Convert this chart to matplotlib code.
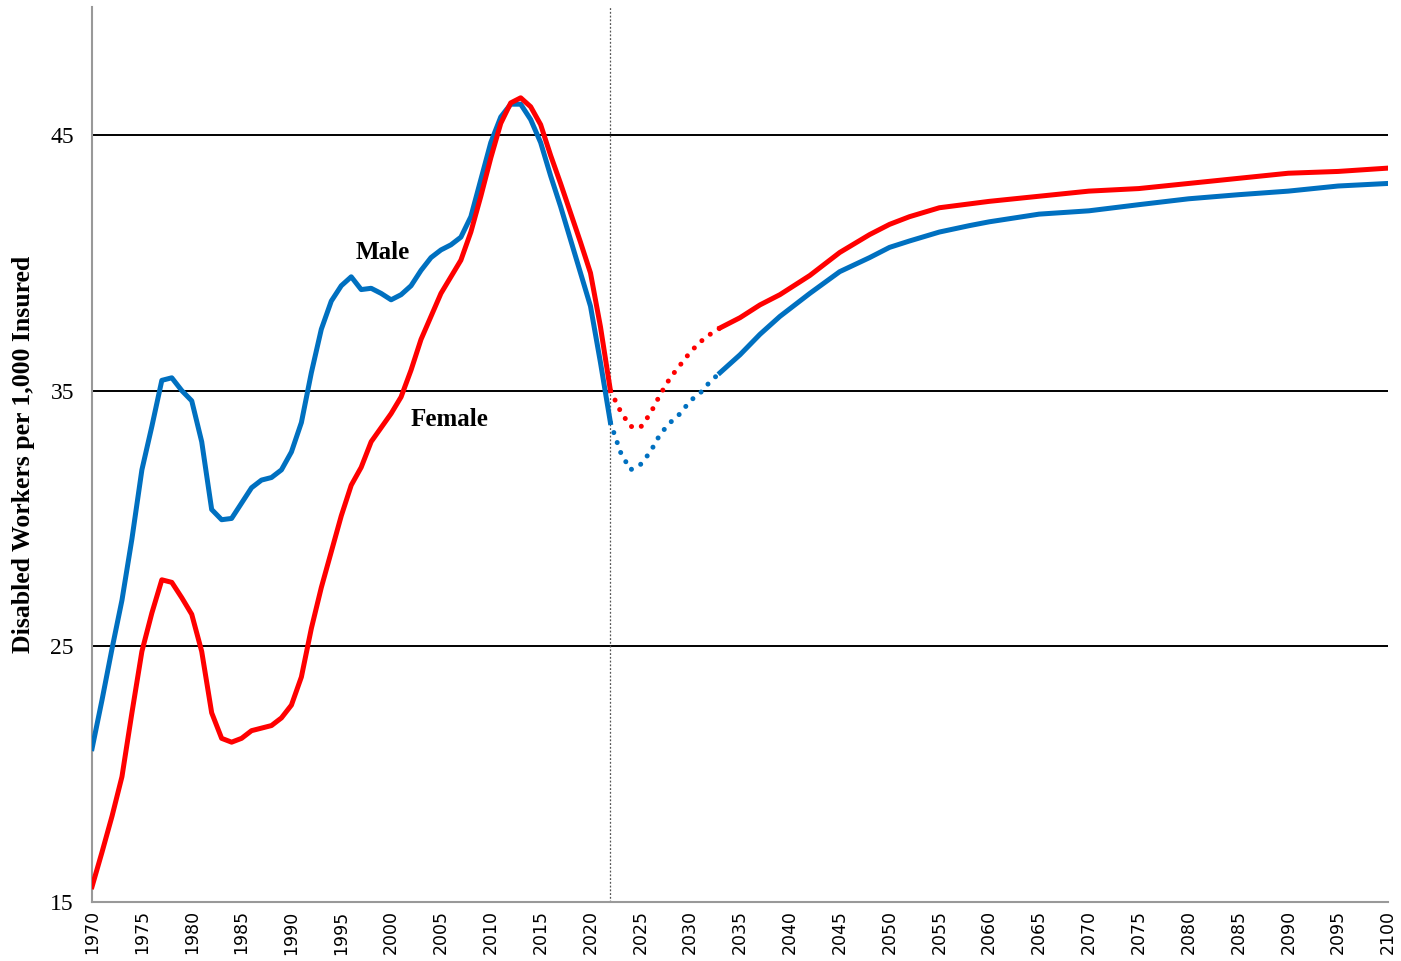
import matplotlib

matplotlib.use("Agg")

import matplotlib.pyplot as plt  # noqa: E402

# ---------- Data ----------

HIST_YEARS = list(range(1970, 2023))
MALE_HIST = [
    21.0, 22.9, 24.9, 26.8, 29.2, 31.9, 33.6, 35.4, 35.5, 35.0,
    34.6, 33.0, 30.35, 29.95, 30.0, 30.6, 31.2, 31.5, 31.6, 31.9,
    32.6, 33.75, 35.7, 37.4, 38.5, 39.1, 39.45, 38.95, 39.0, 38.8,
    38.55, 38.75, 39.1, 39.7, 40.2, 40.5, 40.7, 41.0, 41.8, 43.25,
    44.7, 45.7, 46.2, 46.2, 45.6, 44.7, 43.4, 42.2, 40.9, 39.6,
    38.3, 36.1, 33.75,
]
FEMALE_HIST = [
    15.6, 16.95, 18.35, 19.9, 22.4, 24.8, 26.3, 27.6, 27.5, 26.9,
    26.25, 24.8, 22.4, 21.4, 21.25, 21.4, 21.7, 21.8, 21.9, 22.2,
    22.7, 23.8, 25.7, 27.3, 28.7, 30.1, 31.3, 32.0, 33.0, 33.55,
    34.1, 34.75, 35.8, 37.0, 37.9, 38.8, 39.45, 40.1, 41.2, 42.6,
    44.1, 45.45, 46.25, 46.45, 46.1, 45.4, 44.2, 43.1, 41.95, 40.8,
    39.6, 37.5, 35.0,
]

# short-range projection (drawn dotted)
NEAR_YEARS = list(range(2022, 2034))
MALE_NEAR = [33.75, 32.6, 31.9, 32.1, 32.6, 33.3, 33.75, 34.1, 34.6, 34.9, 35.35, 35.7]
FEMALE_NEAR = [35.0, 34.2, 33.6, 33.55, 34.1, 34.85, 35.5, 36.0, 36.5, 36.9, 37.2, 37.45]

# long-range projection (solid)
LONG_YEARS = [2033, 2035, 2037, 2039, 2040, 2042, 2045, 2048, 2050, 2052,
              2055, 2058, 2060, 2065, 2070, 2075, 2080, 2085, 2090, 2095, 2100]
MALE_LONG = [35.7, 36.4, 37.2, 37.9, 38.2, 38.8, 39.65, 40.2, 40.6, 40.85,
             41.2, 41.45, 41.6, 41.9, 42.03, 42.27, 42.5, 42.66, 42.8, 43.0, 43.1]
FEMALE_LONG = [37.45, 37.85, 38.35, 38.75, 39.0, 39.5, 40.4, 41.1, 41.5, 41.8,
               42.15, 42.3, 42.4, 42.6, 42.8, 42.9, 43.1, 43.3, 43.5, 43.57, 43.7]

Y_TICKS = [15, 25, 35, 45]
X_TICKS = list(range(1970, 2101, 5))
CUTOFF_YEAR = 2022

BLUE = "#0070C0"
RED = "#FF0000"
SERIF = ["Liberation Serif", "DejaVu Serif"]

# ---------- Figure ----------

fig = plt.figure(figsize=(14.01, 9.61), dpi=100)
ax = fig.add_axes([0.0657, 0.0614, 0.925, 0.9313])

for y in Y_TICKS[1:]:
    ax.axhline(y, color="black", lw=1.4, zorder=1)
ax.axvline(CUTOFF_YEAR, color="#555555", lw=0.9, ls=(0, (1.5, 1.5)), zorder=1)

LW = 3.6
ax.plot(HIST_YEARS, MALE_HIST, color=BLUE, lw=LW, zorder=3)
ax.plot(HIST_YEARS, FEMALE_HIST, color=RED, lw=LW, zorder=4)
dot = (0, (0.01, 2.1))
ax.plot(NEAR_YEARS, MALE_NEAR, color=BLUE, lw=LW, ls=dot,
        dash_capstyle="round", zorder=3)
ax.plot(NEAR_YEARS, FEMALE_NEAR, color=RED, lw=LW, ls=dot,
        dash_capstyle="round", zorder=3)
ax.plot(LONG_YEARS, MALE_LONG, color=BLUE, lw=LW, zorder=3)
ax.plot(LONG_YEARS, FEMALE_LONG, color=RED, lw=LW, zorder=3)

ax.text(1999.2, 40.4, "Male", family=SERIF, fontweight="bold", fontsize=18,
        ha="center", va="center")
ax.text(2005.9, 33.85, "Female", family=SERIF, fontweight="bold", fontsize=18,
        ha="center", va="center")

ax.set_xlim(1970, 2100)
ax.set_ylim(15, 50)
ax.set_yticks(Y_TICKS)
ax.set_yticklabels([str(v) for v in Y_TICKS], family=SERIF, fontsize=17)
ax.set_xticks(X_TICKS)
ax.set_xticklabels([str(v) for v in X_TICKS], rotation=90, fontsize=12.5,
                   family="DejaVu Sans")
ax.tick_params(axis="both", length=0)
ax.tick_params(axis="y", pad=13)
ax.tick_params(axis="x", pad=6)

for side in ("top", "right"):
    ax.spines[side].set_visible(False)
for side in ("left", "bottom"):
    ax.spines[side].set_color("#999999")
    ax.spines[side].set_linewidth(1.5)

ax.set_ylabel("Disabled Workers per 1,000 Insured", family=SERIF,
              fontweight="bold", fontsize=18.5)
ax.yaxis.set_label_coords(-0.044, 0.5)

fig.savefig("out.png", dpi=100)
